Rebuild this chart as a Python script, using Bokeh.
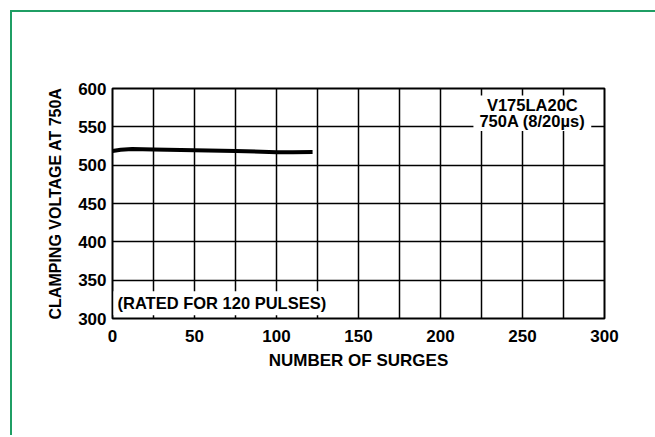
from bokeh.plotting import figure
from bokeh.models import Range1d, FixedTicker, Label
from bokeh.embed import file_html
from bokeh.resources import INLINE

# ---- data ----
surges = [0, 5, 12, 25, 50, 75, 100, 110, 122]
clamp_v = [518.5, 520.0, 521.0, 520.5, 519.5, 518.5, 517.0, 517.0, 517.2]
x_ticks = [0, 50, 100, 150, 200, 250, 300]
x_grid = [0, 25, 50, 75, 100, 125, 150, 175, 200, 225, 250, 275, 300]
y_ticks = [300, 350, 400, 450, 500, 550, 600]
x_title = "NUMBER OF SURGES"
y_title = "CLAMPING VOLTAGE AT 750A"
device_line1 = "V175LA20C"
device_line2 = "750A (8/20µs)"
rating_note = "(RATED FOR 120 PULSES)"

FONT = "Liberation Sans"
GREEN = "#1f9e64"

p = figure(width=660, height=425, output_backend="svg", toolbar_location=None,
           x_range=Range1d(0, 300), y_range=Range1d(300, 600),
           min_border_left=100, min_border_right=68,
           min_border_top=76, min_border_bottom=119)
p.background_fill_color = "white"
p.border_fill_color = "white"
p.outline_line_color = "black"
p.outline_line_width = 2
p.styles = {"margin-left": "12px", "margin-top": "12px",
            "box-shadow": f"-2px -2px 0px 0px {GREEN}"}

for ax in (p.xaxis[0], p.yaxis[0]):
    ax.axis_line_color = None
    ax.major_tick_in = 0
    ax.major_tick_out = 0
    ax.minor_tick_line_color = None
    ax.major_label_text_font = FONT
    ax.major_label_text_font_style = "bold"
    ax.major_label_text_font_size = "17px"
    ax.major_label_text_color = "black"
    ax.axis_label_text_font = FONT
    ax.axis_label_text_font_style = "bold"
    ax.axis_label_text_color = "black"

p.xaxis.axis_label_text_font_size = "17px"
p.yaxis.axis_label_text_font_size = "16px"
p.xaxis.ticker = FixedTicker(ticks=x_ticks)
p.yaxis.ticker = FixedTicker(ticks=y_ticks)
p.xaxis.axis_label = x_title
p.yaxis.axis_label = y_title
p.xaxis.major_label_standoff = 11
p.xaxis.axis_label_standoff = 6
p.yaxis.major_label_standoff = 6
p.yaxis.axis_label_standoff = 11

p.xgrid.ticker = FixedTicker(ticks=x_grid)
p.ygrid.ticker = FixedTicker(ticks=y_ticks)
for g in (p.xgrid[0], p.ygrid[0]):
    g.grid_line_color = "black"
    g.grid_line_width = 1.5
    g.grid_line_alpha = 1.0

p.line(surges, clamp_v, line_color="black", line_width=4)

common = dict(text_align="center", text_baseline="middle", text_font=FONT,
              text_font_style="bold", text_font_size="16.5px",
              text_color="black", background_fill_color="white")
p.add_layout(Label(x=256, y=579, text=device_line1,
                   padding=dict(left=16, right=16, top=0, bottom=0), **common))
p.add_layout(Label(x=256, y=557, text=device_line2,
                   padding=dict(left=6, right=6, top=0, bottom=1), **common))

note2 = Label(x=0.6, y=320, text=rating_note, text_align="left",
              text_baseline="middle", text_font=FONT, text_font_style="bold",
              text_font_size="16.5px", text_color="black",
              background_fill_color="white",
              padding=dict(left=4, right=4, top=3, bottom=3))
p.add_layout(note2)

open("out.html", "w").write(file_html(p, INLINE))
